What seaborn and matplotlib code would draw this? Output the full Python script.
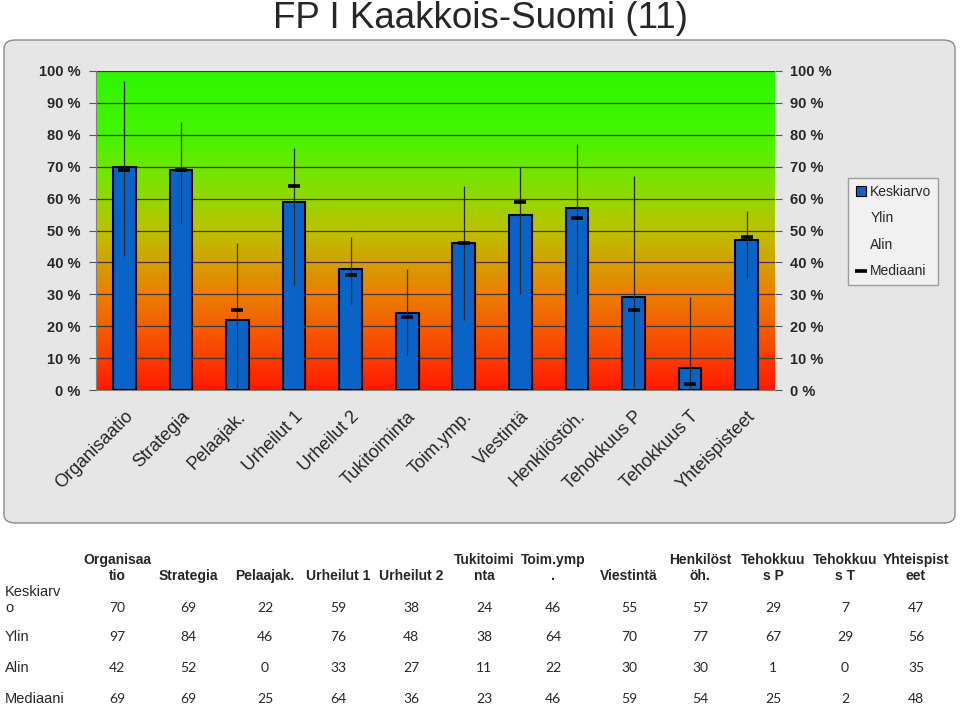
import numpy as np
import pandas as pd
import matplotlib
matplotlib.use("Agg")
import matplotlib.pyplot as plt
import seaborn as sns
from matplotlib.colors import LinearSegmentedColormap
from matplotlib.patches import FancyBboxPatch
from matplotlib.lines import Line2D

# ---------------- data ----------------
categories = ["Organisaatio", "Strategia", "Pelaajak.", "Urheilut 1", "Urheilut 2",
              "Tukitoiminta", "Toim.ymp.", "Viestintä", "Henkilöstöh.", "Tehokkuus P",
              "Tehokkuus T", "Yhteispisteet"]
table_headers = ["Organisaa\ntio", "Strategia", "Pelaajak.", "Urheilut 1", "Urheilut 2",
                 "Tukitoimi\nnta", "Toim.ymp\n.", "Viestintä", "Henkilöst\nöh.",
                 "Tehokkuu\ns P", "Tehokkuu\ns T", "Yhteispist\neet"]
keskiarvo = [70, 69, 22, 59, 38, 24, 46, 55, 57, 29, 7, 47]
ylin = [97, 84, 46, 76, 48, 38, 64, 70, 77, 67, 29, 56]
alin = [42, 52, 0, 33, 27, 11, 22, 30, 30, 1, 0, 35]
mediaani = [69, 69, 25, 64, 36, 23, 46, 59, 54, 25, 2, 48]
row_labels = ["Keskiarv\no", "Ylin", "Alin", "Mediaani"]
series_names = ["Keskiarvo", "Ylin", "Alin", "Mediaani"]
title = "FP I Kaakkois-Suomi (11)"
y_ticks = [0, 10, 20, 30, 40, 50, 60, 70, 80, 90, 100]

sns.set_style("white")
plt.rcParams["font.family"] = ["Liberation Sans", "DejaVu Sans"]

W, H = 960, 705
fig = plt.figure(figsize=(W / 100, H / 100), dpi=100)
fig.patch.set_facecolor("white")


def fx(px):
    return px / W


def fy(py):
    return 1 - py / H


# grey rounded panel
panel = FancyBboxPatch((fx(4), fy(523)), fx(951), 483 / H,
                       boxstyle="round,pad=0,rounding_size=0.012",
                       transform=fig.transFigure, facecolor="#e6e6e6",
                       edgecolor="#8a8a8a", linewidth=1.0, zorder=0)
fig.patches.append(panel)

ax = fig.add_axes([fx(96), fy(390), fx(775 - 96), (390 - 71) / H])
ax.set_zorder(2)

# gradient background
cmap = LinearSegmentedColormap.from_list("bg", [
    (0.0, (1.0, 0.10, 0.0)),
    (0.12, (0.98, 0.27, 0.0)),
    (0.30, (0.92, 0.50, 0.0)),
    (0.50, (0.74, 0.76, 0.0)),
    (0.66, (0.48, 0.89, 0.0)),
    (0.80, (0.27, 0.96, 0.0)),
    (1.0, (0.18, 0.97, 0.0)),
])
grad = np.linspace(0, 1, 256).reshape(-1, 1)
ax.imshow(grad, extent=[-0.5, len(categories) - 0.5, 0, 100], origin="lower",
          aspect="auto", cmap=cmap, zorder=0, interpolation="bicubic")

for t in y_ticks:
    ax.axhline(t, color="#3a3a3a", lw=0.9, zorder=1)

df = pd.DataFrame({"cat": categories, "Keskiarvo": keskiarvo})
sns.barplot(data=df, x="cat", y="Keskiarvo", color="#0a64c8", width=0.4,
            edgecolor="black", linewidth=1.5, ax=ax, zorder=3, saturation=1)

xs = np.arange(len(categories))
ax.vlines(xs, alin, ylin, color="#2a2a2a", lw=0.9, zorder=4)
ax.plot(xs, mediaani, ls="none", marker="_", ms=8, mew=2.6, color="black", zorder=5)

ax.set_xlim(-0.5, len(categories) - 0.5)
ax.set_ylim(0, 100)
ax.set_yticks(y_ticks)
ax.set_yticklabels([f"{t} %" for t in y_ticks], fontsize=10.5, fontweight="bold")
ax.tick_params(axis="y", left=True, right=True, labelleft=True, labelright=True,
               length=5, width=0.8, color="#555555", pad=6)
ax.set_xticks(xs)
ax.set_xticklabels(categories, rotation=45, ha="right", rotation_mode="anchor",
                   fontsize=13)
ax.tick_params(axis="x", length=0, pad=13)
ax.set_xticks(np.arange(-0.5, len(categories), 1), minor=True)
ax.tick_params(axis="x", which="minor", length=5, width=0.8, color="#666666")
ax.set_xlabel("")
ax.set_ylabel("")
for s in ["top", "right"]:
    ax.spines[s].set_visible(False)
ax.spines["left"].set_color("#808080")
ax.spines["bottom"].set_color("#808080")

# legend
handles = [
    Line2D([], [], ls="none", marker="s", ms=7, mfc="#0a64c8", mec="black", mew=0.8),
    Line2D([], [], ls="none"),
    Line2D([], [], ls="none"),
    Line2D([], [], ls="none", marker="_", ms=9, mew=2.6, color="black"),
]
leg = fig.legend(handles, series_names, loc="upper left",
                 bbox_to_anchor=(fx(848), fy(178)), borderaxespad=0,
                 frameon=True, fancybox=False,
                 fontsize=10, handlelength=0.8, handletextpad=0.3,
                 labelspacing=0.9, borderpad=0.5, edgecolor="#8a8a8a")
leg.get_frame().set_facecolor("#f4f4f4")
leg.get_frame().set_linewidth(1.0)

# title
fig.text(0.5, fy(18), title, ha="center", va="center", fontsize=26.5,
         family=["Liberation Sans Narrow", "Liberation Sans", "DejaVu Sans"])

# data table below
col_x = [117, 188, 265, 338, 411, 484, 553, 629, 700, 773, 845, 916]
for cx, hdr in zip(col_x, table_headers):
    fig.text(fx(cx), fy(583), hdr, ha="center", va="bottom", fontsize=10,
             fontweight="bold", linespacing=1.15)
row_y = [608, 637, 668, 699]
rows = [keskiarvo, ylin, alin, mediaani]
for ry, lab, vals in zip(row_y, row_labels, rows):
    fig.text(fx(5), fy(ry + 7), lab, ha="left", va="bottom", fontsize=10.5,
             linespacing=1.2)
    for cx, v in zip(col_x, vals):
        fig.text(fx(cx), fy(ry), str(v), ha="center", va="center", fontsize=10,
                 family=["Lato", "Liberation Sans"])

fig.savefig("out.png", dpi=100)
